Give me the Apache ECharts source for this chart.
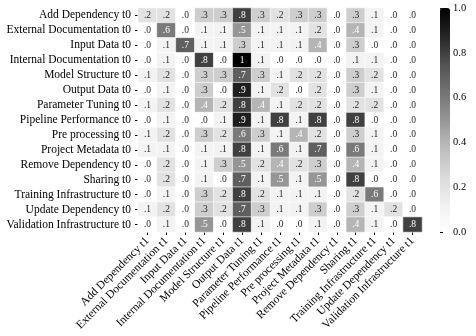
<!DOCTYPE html>
<html>
<head>
<meta charset="utf-8">
<script src="https://cdn.jsdelivr.net/npm/echarts@6/dist/echarts.min.js"></script>
<style>
html, body { margin: 0; padding: 0; background: #fff; }
#chart { width: 476px; height: 336px; }
</style>
</head>
<body>
<div id="chart"></div>
<script>
/* categories (same list for t0 rows and t1 columns) */
var categories = ['Add Dependency', 'External Documentation', 'Input Data', 'Internal Documentation',
    'Model Structure', 'Output Data', 'Parameter Tuning', 'Pipeline Performance', 'Pre processing',
    'Project Metadata', 'Remove Dependency', 'Sharing', 'Training Infrastructure',
    'Update Dependency', 'Validation Infrastructure'];
var rowLabels = categories.map(function (c) { return c + ' t0'; });
var colLabels = categories.map(function (c) { return c + ' t1'; });

/* one row per t0 category, values in t1 column order */
var shares = [
    [.2, .2, .0, .3, .3, .8, .3, .2, .3, .3, .0, .3, .1, .0, .0],
    [.0, .6, .0, .1, .1, .5, .1, .1, .1, .2, .0, .4, .1, .0, .0],
    [.0, .1, .7, .1, .1, .3, .1, .1, .1, .4, .0, .3, .0, .0, .0],
    [.0, .1, .0, .8, .0, 1., .1, .0, .0, .0, .0, .1, .1, .0, .0],
    [.1, .2, .0, .3, .3, .7, .3, .1, .2, .2, .0, .3, .2, .0, .0],
    [.0, .1, .0, .3, .0, .9, .1, .2, .0, .2, .0, .3, .1, .0, .0],
    [.1, .2, .0, .4, .2, .8, .4, .1, .2, .2, .0, .2, .2, .0, .0],
    [.0, .1, .0, .0, .1, .9, .1, .8, .1, .8, .0, .8, .0, .0, .0],
    [.1, .2, .0, .3, .2, .6, .3, .1, .4, .2, .0, .3, .1, .0, .0],
    [.1, .1, .0, .1, .1, .8, .1, .6, .1, .7, .0, .6, .1, .0, .0],
    [.0, .2, .0, .1, .3, .5, .2, .4, .2, .3, .0, .4, .1, .0, .0],
    [.0, .2, .0, .1, .0, .7, .1, .5, .1, .5, .0, .8, .0, .0, .0],
    [.0, .1, .0, .3, .2, .8, .2, .1, .1, .1, .0, .2, .6, .0, .0],
    [.1, .2, .0, .3, .2, .7, .3, .1, .1, .3, .0, .3, .1, .2, .0],
    [.0, .1, .0, .5, .0, .8, .1, .0, .0, .1, .0, .4, .1, .0, .8]
];
var colorbarTicks = [0, 0.2, 0.4, 0.6, 0.8, 1.0];

/* matplotlib "Greys" */
var greys = ['#ffffff', '#f0f0f0', '#d9d9d9', '#bdbdbd', '#969696', '#737373', '#525252', '#252525', '#000000'];
var FONT = 'Liberation Serif';

function fmt(v) {
    if (v >= 1) return '1';
    return v.toFixed(1).replace(/^0/, '');
}

var heatData = [];
for (var r = 0; r < shares.length; r++) {
    for (var c = 0; c < shares[r].length; c++) {
        var v = shares[r][c];
        heatData.push({
            value: [c, r, v],
            label: { color: v >= 0.35 ? '#ffffff' : '#262626' }
        });
    }
}

var myChart = echarts.init(document.getElementById('chart'));
var option = {
    animation: false,
    textStyle: { fontFamily: FONT },
    grid: [
        { left: 138, right: 54, top: 8, bottom: 104 },
        { left: 440, width: 10, top: 8, bottom: 104 }
    ],
    xAxis: [
        {
            type: 'category', data: colLabels, gridIndex: 0,
            axisLine: { show: false },
            axisTick: { show: true, alignWithLabel: true, length: 3, lineStyle: { color: '#000' } },
            axisLabel: { rotate: 45, interval: 0, fontFamily: FONT, fontSize: 11.5, color: '#000', margin: 7 },
            splitArea: { show: false }
        },
        { type: 'value', gridIndex: 1, show: false, min: 0, max: 1 }
    ],
    yAxis: [
        {
            type: 'category', data: rowLabels, gridIndex: 0, inverse: true,
            axisLine: { show: false },
            axisTick: { show: true, alignWithLabel: true, length: 3, lineStyle: { color: '#000' } },
            axisLabel: { interval: 0, fontFamily: FONT, fontSize: 11.5, color: '#000', margin: 7 },
            splitArea: { show: false }
        },
        {
            type: 'value', gridIndex: 1, position: 'right', min: 0, max: 1, interval: 0.2,
            axisLine: { show: false },
            splitLine: { show: false },
            axisTick: { show: true, length: 3, lineStyle: { color: '#000' } },
            axisLabel: {
                fontFamily: FONT, fontSize: 10.5, color: '#000', margin: 3,
                formatter: function (v) { return v.toFixed(1); }
            }
        }
    ],
    visualMap: {
        type: 'continuous', min: 0, max: 1, seriesIndex: 0,
        calculable: false, text: null, showLabel: false,
        left: 440, top: 8, itemWidth: 10, itemHeight: 224, padding: 0,
        inRange: { color: greys }
    },
    series: [{
        type: 'heatmap',
        xAxisIndex: 0, yAxisIndex: 0,
        data: heatData,
        itemStyle: { borderColor: '#ffffff', borderWidth: 0.6 },
        label: {
            show: true, fontFamily: FONT, fontSize: 9.5,
            formatter: function (p) { return fmt(p.value[2]); }
        },
        emphasis: { disabled: true }
    }]
};
myChart.setOption(option);
</script>
</body>
</html>
